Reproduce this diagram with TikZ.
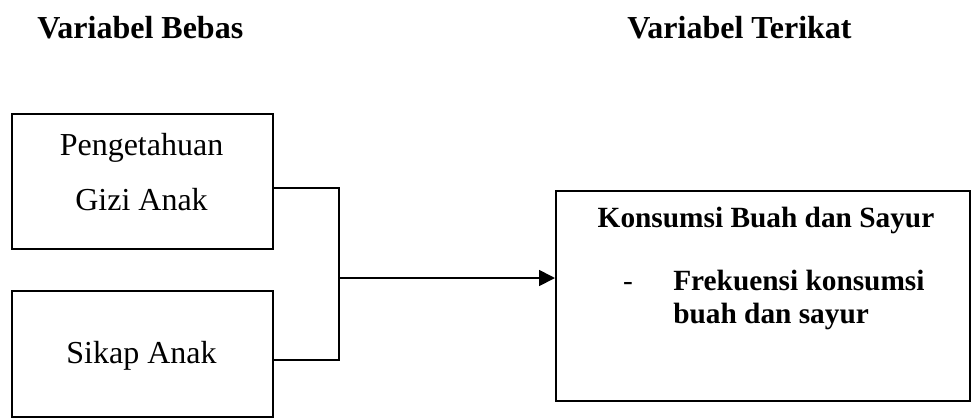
\documentclass[tikz,border=0pt]{standalone}
\usepackage{fontspec}
\setmainfont{Liberation Serif}
\usetikzlibrary{arrows.meta}
\begin{document}
\begin{tikzpicture}[x=0.75pt,y=-0.75pt,
  frame/.style={draw, line width=1.3pt, inner sep=0pt, anchor=north west},
  txt/.style={font=\fontsize{24}{28}\selectfont, inner sep=0pt, anchor=base},
  head/.style={font=\fontsize{24}{28}\selectfont\bfseries, inner sep=0pt, anchor=base west},
  strong/.style={font=\fontsize{22}{26}\selectfont\bfseries, inner sep=0pt},
  wire/.style={line width=1.3pt},
  arr/.style={line width=1.3pt, -{Triangle[length=12pt,width=12pt]}}]
\useasboundingbox (0,0) rectangle (973,418);

% column headings
\node[head] (hbebas) at (37,38) {Variabel Bebas};
\node[head] (hterikat) at (627,38) {Variabel Terikat};

% independent variables
\node[frame, minimum width=261*0.75pt, minimum height=135*0.75pt] (b1) at (11,113) {};
\node[txt] (t1a) at (141.5,155) {Pengetahuan};
\node[txt] (t1b) at (141.5,210) {Gizi Anak};

\node[frame, minimum width=261*0.75pt, minimum height=126*0.75pt] (b2) at (11,290) {};
\node[txt] (t2) at (141.5,363) {Sikap Anak};

% dependent variable
\node[frame, minimum width=414*0.75pt, minimum height=210*0.75pt] (b3) at (555,190) {};
\node[strong, anchor=base] (t3) at (766,227) {Konsumsi Buah dan Sayur};
\node[txt, font=\fontsize{22}{26}\selectfont] (dash) at (628,290) {-};
\node[strong, anchor=base west] (t3a) at (673,290) {Frekuensi konsumsi};
\node[strong, anchor=base west] (t3b) at (673,323) {buah dan sayur};

% connectors
\coordinate (j1) at (339,188);
\coordinate (j2) at (339,360);
\coordinate (jm) at (339,278);
\draw[wire] (b1.east |- j1) -- (j1) -- (j2) -- (b2.east |- j2);
\draw[arr] (jm) -- (jm -| b3.west);
\end{tikzpicture}
\end{document}
